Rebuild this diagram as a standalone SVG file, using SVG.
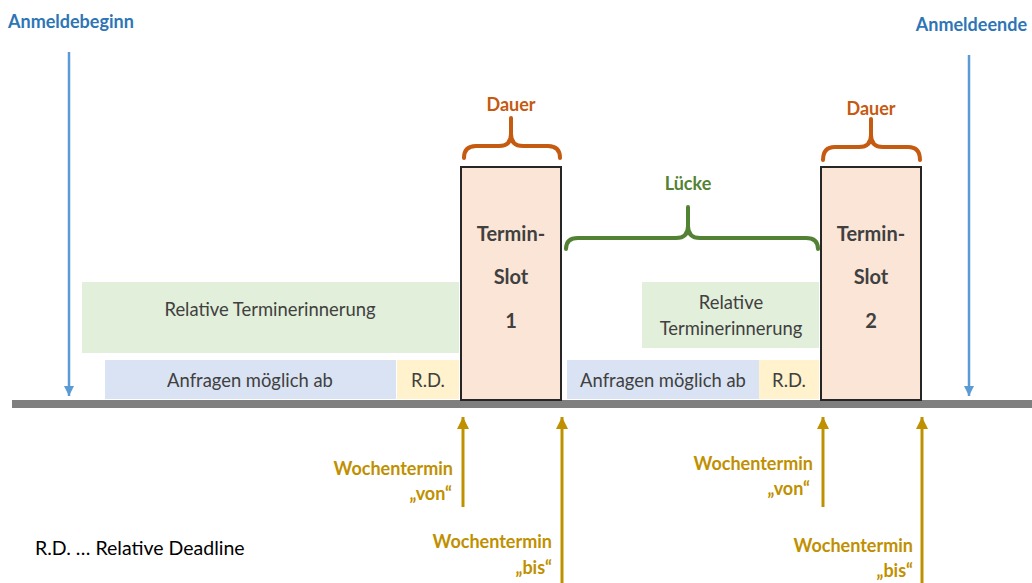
<svg xmlns="http://www.w3.org/2000/svg" width="1032" height="583" viewBox="0 0 1032 583">
<defs>
<marker id="ab" viewBox="0 0 10 10" refX="5" refY="10" markerWidth="4" markerHeight="4.5" markerUnits="strokeWidth"><path d="M0,0 L10,0 L5,10 Z" fill="#5b9bd5"/></marker>
<marker id="ag" viewBox="0 0 10 10" refX="5" refY="0" markerWidth="4" markerHeight="4.5" markerUnits="strokeWidth"><path d="M0,10 L10,10 L5,0 Z" fill="#bf9000"/></marker>
</defs>
<style>
text{font-family:Lato,"Open Sans","Liberation Sans",sans-serif}
.t{font-size:18.4px;fill:#404040;text-anchor:middle}
.s{font-size:20px;font-weight:bold;fill:#404040;text-anchor:middle}
.blue{fill:#2e75b6;font-size:18px;font-weight:bold}
.gold{fill:#bf9000;font-size:18px;font-weight:bold;text-anchor:end}
.slot{fill:#fbe5d6;stroke:#262626;stroke-width:2}
.brace{fill:none;stroke-width:4;stroke-linecap:round}
</style>
<rect width="1032" height="583" fill="#fff"/>
<g id="timeline"><rect x="12" y="400" width="1020" height="8" fill="#7f7f7f"/></g>
<g id="anmeldebeginn"><text class="blue" x="8" y="28">Anmeldebeginn</text></g>
<g id="anmeldeende"><text class="blue" x="1027" y="31" text-anchor="end">Anmeldeende</text></g>
<g id="reminder1"><rect x="82" y="282" width="377" height="71" fill="#e2efda"/><text class="t" x="270" y="316">Relative Terminerinnerung</text></g>
<g id="anfragen1"><rect x="105" y="360" width="291" height="39" fill="#dae3f3"/><text class="t" x="250" y="387">Anfragen möglich ab</text></g>
<g id="rd1"><rect x="397" y="360" width="62" height="39" fill="#fff2cc"/><text class="t" x="428" y="387">R.D.</text></g>
<g id="slot1"><rect class="slot" x="461" y="167" width="100" height="233"/><text class="s" x="511" y="241">Termin-</text><text class="s" x="511" y="284">Slot</text><text class="s" x="511" y="328">1</text></g>
<g id="reminder2"><rect x="642" y="282" width="177" height="66" fill="#e2efda"/><text class="t" x="731" y="309">Relative</text><text class="t" x="731" y="335">Terminerinnerung</text></g>
<g id="anfragen2"><rect x="567" y="360" width="192" height="39" fill="#dae3f3"/><text class="t" x="663" y="387">Anfragen möglich ab</text></g>
<g id="rd2"><rect x="759" y="360" width="60" height="39" fill="#fff2cc"/><text class="t" x="789" y="387">R.D.</text></g>
<g id="slot2"><rect class="slot" x="821" y="167" width="100" height="233"/><text class="s" x="871" y="241">Termin-</text><text class="s" x="871" y="284">Slot</text><text class="s" x="871" y="328">2</text></g>
<g id="dauer1"><path class="brace" stroke="#c55a11" d="M464,158 Q464,146 476,146 L499,146 Q511,146 511,134 L511,118 M511,134 Q511,146 523,146 L548,146 Q560,146 560,158"/><text x="511" y="111" text-anchor="middle" font-size="18" font-weight="bold" fill="#c55a11">Dauer</text></g>
<g id="dauer2"><path class="brace" stroke="#c55a11" d="M823,160 Q823,147 835,147 L859,147 Q871,147 871,135 L871,119 M871,135 Q871,147 883,147 L908,147 Q920,147 920,160"/><text x="871" y="115" text-anchor="middle" font-size="18" font-weight="bold" fill="#c55a11">Dauer</text></g>
<g id="luecke"><path class="brace" stroke="#548235" d="M566,249 Q566,238 578,238 L676,238 Q688,238 688,226 L688,207 M688,226 Q688,238 700,238 L806,238 Q818,238 818,249"/><text x="688" y="190" text-anchor="middle" font-size="18" font-weight="bold" fill="#548235">Lücke</text></g>
<g id="labels">
<text class="gold" x="453" y="475">Wochentermin</text><text class="gold" x="452" y="500">„von“</text>
<text class="gold" x="552" y="548">Wochentermin</text><text class="gold" x="552" y="574">„bis“</text>
<text class="gold" x="813" y="470">Wochentermin</text><text class="gold" x="810" y="495">„von“</text>
<text class="gold" x="913" y="552">Wochentermin</text><text class="gold" x="913" y="577">„bis“</text>
<text x="35" y="555" font-size="19.5" fill="#000">R.D. … Relative Deadline</text>
</g>
<g id="connectors">
<line x1="69" y1="52" x2="69" y2="396" stroke="#5b9bd5" stroke-width="2.5" marker-end="url(#ab)"/>
<line x1="969" y1="55" x2="969" y2="396" stroke="#5b9bd5" stroke-width="2.5" marker-end="url(#ab)"/>
<line x1="463" y1="507" x2="463" y2="417" stroke="#bf9000" stroke-width="3" marker-end="url(#ag)"/>
<line x1="562" y1="583" x2="562" y2="417" stroke="#bf9000" stroke-width="3" marker-end="url(#ag)"/>
<line x1="823" y1="507" x2="823" y2="417" stroke="#bf9000" stroke-width="3" marker-end="url(#ag)"/>
<line x1="922" y1="583" x2="922" y2="417" stroke="#bf9000" stroke-width="3" marker-end="url(#ag)"/>
</g>
</svg>
